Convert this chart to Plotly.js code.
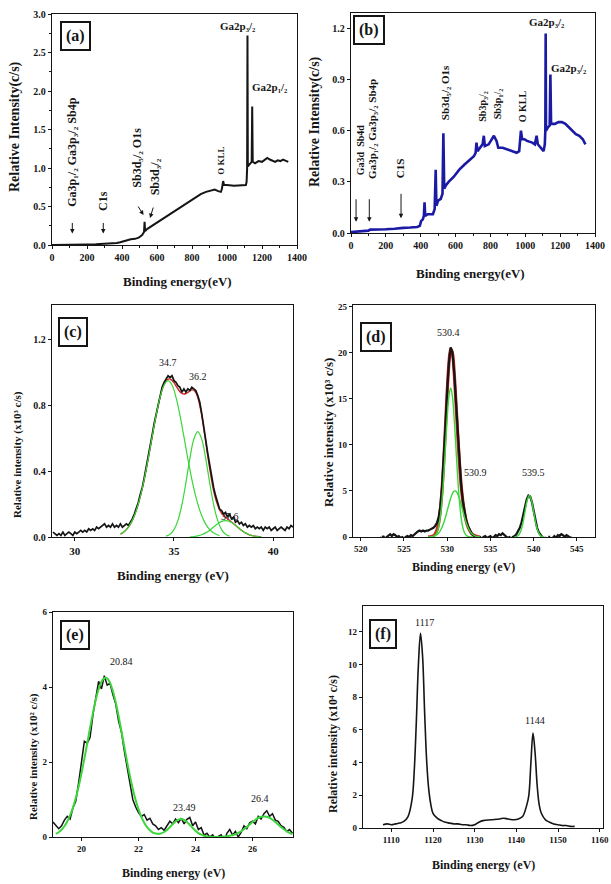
<!DOCTYPE html>
<html>
<head>
<meta charset="utf-8">
<script src="https://cdn.plot.ly/plotly-3.0.1.min.js"></script>
<style>
  html, body { margin: 0; padding: 0; background: #fff; }
  #chart { width: 611px; height: 884px; }
</style>
</head>
<body>
<div id="chart"></div>
<script>
// ---------- (a) XPS survey, sample A ----------
const surveyA_eV = [0,50,100,150,200,250,300,340,370,390,410,430,450,475,495,515,526,529,532,545,565,590,620,660,700,740,780,820,850,880,905,930,950,965,970,974,978,983,1000,1040,1080,1108,1112,1115,1117,1119,1126,1135,1141,1144,1147,1160,1180,1200,1215,1230,1245,1260,1275,1290,1305,1320,1335,1350];
const surveyA_cps = [0.0,0.0,0.005,0.004,0.008,0.01,0.014,0.02,0.025,0.035,0.05,0.07,0.075,0.08,0.095,0.13,0.17,0.30,0.18,0.21,0.24,0.28,0.32,0.38,0.44,0.50,0.56,0.62,0.66,0.69,0.71,0.72,0.70,0.69,0.72,0.78,0.83,0.78,0.78,0.77,0.78,0.78,0.82,1.0,2.72,1.02,1.04,1.06,1.08,1.80,1.08,1.06,1.09,1.08,1.11,1.13,1.11,1.10,1.08,1.10,1.09,1.11,1.09,1.08];

// ---------- (b) XPS survey, sample B ----------
const surveyB_eV = [0,30,60,100,110,150,200,250,280,300,340,380,395,402,412,418,422,426,440,470,480,486,490,500,515,525,530,535,545,560,590,620,650,680,705,715,720,726,740,755,762,768,790,810,820,835,845,870,895,920,950,965,975,982,995,1010,1040,1055,1065,1072,1090,1105,1112,1115,1117,1119,1130,1140,1144,1148,1170,1190,1210,1230,1250,1270,1290,1310,1330,1345];
const surveyB_cps = [0.005,0.008,0.01,0.014,0.02,0.02,0.022,0.025,0.03,0.03,0.032,0.035,0.042,0.07,0.08,0.10,0.18,0.10,0.11,0.11,0.14,0.37,0.16,0.19,0.20,0.23,0.585,0.26,0.28,0.30,0.33,0.37,0.40,0.43,0.45,0.47,0.53,0.48,0.50,0.52,0.57,0.51,0.52,0.55,0.57,0.54,0.50,0.50,0.49,0.48,0.47,0.48,0.60,0.55,0.55,0.54,0.53,0.52,0.57,0.52,0.50,0.48,0.52,0.60,1.17,0.60,0.62,0.63,0.93,0.64,0.64,0.65,0.65,0.64,0.62,0.60,0.58,0.57,0.55,0.52];

// ---------- (c) Sb 4d region ----------
const sb4d_eV = [28.9,29.0,29.1,29.2,29.3,29.4,29.5,29.6,29.7,29.8,29.9,30.0,30.1,30.2,30.3,30.4,30.5,30.6,30.7,30.8,30.9,31.0,31.1,31.2,31.3,31.4,31.5,31.6,31.7,31.8,31.9,32.0,32.1,32.2,32.3,32.4,32.5,32.6,32.7,32.8,32.9,33.0,33.1,33.2,33.3,33.4,33.5,33.6,33.7,33.8,33.9,34.0,34.1,34.2,34.3,34.4,34.5,34.6,34.7,34.8,34.9,35.0,35.1,35.2,35.3,35.4,35.5,35.6,35.7,35.8,35.9,36.0,36.1,36.2,36.3,36.4,36.5,36.6,36.7,36.8,36.9,37.0,37.1,37.2,37.3,37.4,37.5,37.6,37.7,37.8,37.9,38.0,38.1,38.2,38.3,38.4,38.5,38.6,38.7,38.8,38.9,39.0,39.1,39.2,39.3,39.4,39.5,39.6,39.7,39.8,39.9,40.0,40.1,40.2,40.3,40.4,40.5,40.6,40.7,40.8,40.9,41.0];
const sb4d_cps = [0.03,0.02,0.01,0.02,0.01,0.03,0.01,0.02,0.03,0.02,0.01,0.03,0.02,0.03,0.04,0.03,0.04,0.03,0.05,0.04,0.05,0.04,0.06,0.05,0.06,0.07,0.08,0.06,0.07,0.06,0.08,0.06,0.07,0.06,0.08,0.06,0.07,0.08,0.07,0.09,0.11,0.14,0.17,0.21,0.26,0.30,0.36,0.42,0.48,0.55,0.62,0.69,0.75,0.81,0.86,0.91,0.94,0.96,0.98,0.97,0.98,0.95,0.94,0.92,0.91,0.88,0.90,0.88,0.90,0.89,0.91,0.90,0.89,0.86,0.82,0.75,0.68,0.59,0.51,0.43,0.36,0.30,0.25,0.21,0.17,0.16,0.14,0.15,0.12,0.14,0.11,0.12,0.09,0.10,0.08,0.09,0.07,0.08,0.06,0.07,0.06,0.07,0.05,0.06,0.05,0.06,0.04,0.06,0.05,0.06,0.04,0.05,0.06,0.04,0.05,0.06,0.05,0.04,0.06,0.05,0.07,0.06];
const sb4d_fit_eV = [32.3,32.4,32.5,32.6,32.7,32.8,32.9,33.0,33.1,33.2,33.3,33.4,33.5,33.6,33.7,33.8,33.9,34.0,34.1,34.2,34.3,34.4,34.5,34.6,34.7,34.8,34.9,35.0,35.1,35.2,35.3,35.4,35.5,35.6,35.7,35.8,35.9,36.0,36.1,36.2,36.3,36.4,36.5,36.6,36.7,36.8,36.9,37.0,37.1,37.2,37.3,37.4,37.5,37.6,37.7,37.8,37.9,38.0,38.1,38.2,38.3,38.4,38.5,38.6,38.7,38.8,38.9,39.0,39.1,39.2,39.3,39.4];
const sb4d_fit = [0.018,0.024,0.033,0.045,0.06,0.078,0.101,0.129,0.162,0.20,0.245,0.295,0.35,0.411,0.475,0.543,0.61,0.677,0.74,0.80,0.85,0.895,0.927,0.949,0.96,0.96,0.952,0.938,0.918,0.901,0.883,0.873,0.869,0.872,0.879,0.888,0.894,0.892,0.877,0.847,0.80,0.737,0.662,0.579,0.495,0.415,0.343,0.281,0.232,0.194,0.165,0.146,0.131,0.12,0.111,0.101,0.091,0.082,0.071,0.061,0.051,0.041,0.032,0.025,0.019,0.0135,0.0096,0.0066,0.0044,0.003,0.002,0.001];
const sb4d_p1_eV = [32.3,32.5,32.7,32.9,33.1,33.3,33.5,33.7,33.9,34.1,34.3,34.5,34.7,34.9,35.1,35.3,35.5,35.7,35.9,36.1,36.3,36.5,36.7,36.9,37.1,37.3];
const sb4d_p1 = [0.018,0.033,0.06,0.101,0.162,0.245,0.35,0.475,0.61,0.74,0.85,0.924,0.95,0.924,0.85,0.74,0.61,0.475,0.35,0.245,0.162,0.101,0.06,0.033,0.018,0.009];
const sb4d_p2_eV = [34.6,34.8,35.0,35.2,35.4,35.6,35.8,36.0,36.2,36.4,36.6,36.8,37.0,37.2,37.4,37.6,37.8];
const sb4d_p2 = [0.0056,0.017,0.045,0.101,0.196,0.329,0.476,0.594,0.64,0.594,0.476,0.329,0.196,0.101,0.045,0.017,0.0056];
const sb4d_p3_eV = [35.8,36.0,36.2,36.4,36.6,36.8,37.0,37.2,37.4,37.6,37.8,38.0,38.2,38.4,38.6,38.8,39.0,39.2,39.4];
const sb4d_p3 = [0.001,0.003,0.0066,0.0135,0.025,0.041,0.061,0.080,0.095,0.1,0.095,0.080,0.061,0.041,0.025,0.0135,0.0066,0.003,0.001];
const sb4d_peaks = [34.7, 36.2, 37.6];

// ---------- (d) O 1s / Sb 3d5/2 region ----------
const o1s_eV = [522.2,522.4,522.6,522.8,523.0,523.2,523.4,523.6,523.8,524.0,524.2,524.4,524.6,524.8,525.0,525.2,525.4,525.6,525.8,526.0,526.2,526.4,526.6,526.8,527.0,527.2,527.4,527.6,527.8,528.0,528.2,528.4,528.6,528.8,529.0,529.2,529.4,529.6,529.8,530.0,530.2,530.4,530.6,530.8,531.0,531.2,531.4,531.6,531.8,532.0,532.2,532.4,532.6,532.8,533.0,533.2,533.4,533.6,533.8,534.0,534.2,534.4,534.6,534.8,535.0,535.2,535.4,535.6,535.8,536.0,536.2,536.4,536.6,536.8,537.0,537.2,537.4,537.6,537.8,538.0,538.2,538.4,538.6,538.8,539.0,539.2,539.4,539.6,539.8,540.0,540.2,540.4,540.6,540.8,541.0,541.2,541.4,541.6,541.8,542.0,542.2,542.4,542.6,542.8,543.0,543.2,543.4,543.6,543.8,544.0,544.2,544.4];
const o1s_cps = [0.0,-0.3,0.1,-0.2,0.0,0.2,0.3,0.1,0.3,0.2,0.0,0.1,-0.1,0.0,-0.2,0.0,0.1,0.0,0.2,0.1,0.3,0.4,0.6,0.7,0.6,0.7,0.6,0.7,0.7,0.8,0.9,1.0,1.2,1.5,2.1,3.3,5.4,8.4,12.1,16.0,19.0,20.6,20.1,18.0,14.9,11.5,8.3,5.8,4.0,2.7,1.8,1.2,0.7,0.4,0.2,0.1,0.0,-0.1,0.0,-0.2,0.0,0.1,-0.1,0.0,0.1,-0.1,0.0,0.2,0.1,0.3,0.2,0.4,0.2,0.1,-0.1,0.0,-0.2,0.0,0.1,0.3,0.6,1.0,1.6,2.4,3.3,4.1,4.5,4.4,3.8,2.8,1.8,1.0,0.5,0.2,0.0,-0.2,-0.1,-0.3,0.0,-0.2,-0.1,0.1,-0.1,0.2,0.1,0.3,0.2,0.0,0.2,0.1,-0.1,0.0];
const o1s_fit_eV = [527.8,528.0,528.2,528.4,528.6,528.8,529.0,529.2,529.4,529.6,529.8,530.0,530.2,530.4,530.6,530.8,531.0,531.2,531.4,531.6,531.8,532.0,532.2,532.4,532.6,532.8,533.0,533.2,533.4,533.6,533.8];
const o1s_fit = [0.01,0.02,0.05,0.13,0.31,0.70,1.48,2.87,5.09,8.21,11.99,15.83,18.86,20.40,20.0,17.94,14.8,11.36,8.24,5.75,3.93,2.62,1.73,1.11,0.70,0.415,0.24,0.13,0.066,0.03,0.015];
const o1s_p1_eV = [527.8,528.0,528.2,528.4,528.6,528.8,529.0,529.2,529.4,529.6,529.8,530.0,530.2,530.4,530.6,530.8,531.0,531.2,531.4,531.6,531.8,532.0,532.2,532.4,532.6,532.8,533.0];
const o1s_p1 = [0.001,0.005,0.02,0.06,0.18,0.46,1.07,2.19,4.04,6.66,9.83,12.97,15.3,16.2,15.3,12.97,9.83,6.66,4.04,2.19,1.07,0.46,0.18,0.06,0.02,0.005,0.001];
const o1s_p2_eV = [528.0,528.2,528.4,528.6,528.8,529.0,529.2,529.4,529.6,529.8,530.0,530.2,530.4,530.6,530.8,531.0,531.2,531.4,531.6,531.8,532.0,532.2,532.4,532.6,532.8,533.0,533.2,533.4,533.6,533.8];
const o1s_p2 = [0.015,0.03,0.066,0.13,0.24,0.41,0.68,1.05,1.55,2.16,2.86,3.56,4.2,4.7,4.97,4.97,4.7,4.2,3.56,2.86,2.16,1.55,1.05,0.68,0.41,0.24,0.13,0.066,0.03,0.015];
const o1s_p3_eV = [537.75,538.0,538.25,538.5,538.75,539.0,539.25,539.5,539.75,540.0,540.25,540.5,540.75,541.0,541.25];
const o1s_p3 = [0.01,0.05,0.2,0.61,1.46,2.73,3.97,4.5,3.97,2.73,1.46,0.61,0.2,0.05,0.01];
const o1s_peaks = [530.4, 530.9, 539.5];

// ---------- (e) valence / Ga 3d region ----------
const ga3d_eV = [19.0,19.1,19.2,19.3,19.4,19.5,19.6,19.7,19.8,19.9,20.0,20.1,20.2,20.3,20.4,20.5,20.6,20.7,20.8,20.9,21.0,21.1,21.2,21.3,21.4,21.5,21.6,21.7,21.8,21.9,22.0,22.1,22.2,22.3,22.4,22.5,22.6,22.7,22.8,22.9,23.0,23.1,23.2,23.3,23.4,23.5,23.6,23.7,23.8,23.9,24.0,24.1,24.2,24.3,24.4,24.5,24.6,24.7,24.8,24.9,25.0,25.1,25.2,25.3,25.4,25.5,25.6,25.7,25.8,25.9,26.0,26.1,26.2,26.3,26.4,26.5,26.6,26.7,26.8,26.9,27.0,27.1,27.2,27.3,27.4];
const ga3d_cps = [0.40,0.32,0.22,0.30,0.45,0.55,0.48,0.78,0.95,1.45,2.0,2.55,2.5,2.65,3.25,3.7,4.15,3.95,4.3,4.05,4.1,3.8,3.55,3.1,2.8,2.3,1.85,1.4,1.0,0.8,0.65,0.55,0.6,0.45,0.5,0.35,0.3,0.2,0.25,0.18,0.3,0.42,0.35,0.48,0.38,0.5,0.35,0.47,0.52,0.3,0.4,0.2,0.25,0.05,0.1,0.0,0.06,-0.05,0.02,0.06,-0.15,0.1,0.2,0.05,0.15,0.0,0.12,0.3,0.22,0.38,0.42,0.35,0.55,0.48,0.62,0.7,0.55,0.62,0.45,0.42,0.3,0.26,0.15,0.2,0.1];
const ga3d_fit_eV = [19.1,19.2,19.3,19.4,19.5,19.6,19.7,19.8,19.9,20.0,20.1,20.2,20.3,20.4,20.5,20.6,20.7,20.8,20.9,21.0,21.1,21.2,21.3,21.4,21.5,21.6,21.7,21.8,21.9,22.0,22.1,22.2,22.3,22.4,22.5,22.6,22.7,22.8,22.9,23.0,23.1,23.2,23.3,23.4,23.5,23.6,23.7,23.8,23.9,24.0,24.1,24.2,24.3,24.4,24.5,24.6,24.7,24.8,24.9,25.0,25.1,25.2,25.3,25.4,25.5,25.6,25.7,25.8,25.9,26.0,26.1,26.2,26.3,26.4,26.5,26.6,26.7,26.8,26.9,27.0,27.1,27.2,27.3,27.4];
const ga3d_fit = [0.083,0.128,0.194,0.286,0.411,0.575,0.784,1.041,1.347,1.697,2.085,2.494,2.909,3.304,3.657,3.943,4.143,4.241,4.230,4.111,3.892,3.591,3.227,2.826,2.412,2.005,1.624,1.282,0.986,0.738,0.539,0.383,0.266,0.179,0.118,0.095,0.085,0.098,0.133,0.190,0.263,0.344,0.414,0.464,0.48,0.457,0.401,0.324,0.242,0.166,0.105,0.061,0.033,0.016,0.007,0.003,0.001,0.003,0.006,0.011,0.019,0.031,0.049,0.074,0.109,0.153,0.206,0.268,0.334,0.399,0.459,0.508,0.539,0.55,0.539,0.508,0.459,0.399,0.334,0.268,0.206,0.153,0.109,0.074];
const ga3d_peaks = [20.84, 23.49, 26.4];

// ---------- (f) Ga 2p region ----------
const ga2p_eV = [1108,1109,1110,1111,1112,1113,1114,1115,1115.5,1116,1116.5,1117,1117.5,1118,1118.5,1119,1119.5,1120,1121,1122,1123,1124,1125,1126,1127,1128,1129,1130,1131,1132,1134,1136,1137,1138,1139.5,1140.5,1141.5,1142.5,1143,1143.5,1144,1144.5,1145,1145.5,1146,1147,1148,1149,1150,1151,1152,1153,1154];
const ga2p_cps = [0.2,0.25,0.2,0.25,0.3,0.4,0.7,1.8,3.5,6.5,10.0,11.9,10.5,7.0,4.0,2.3,1.4,0.9,0.6,0.45,0.35,0.3,0.25,0.25,0.2,0.2,0.15,0.2,0.35,0.45,0.5,0.55,0.6,0.55,0.5,0.55,0.7,1.4,2.0,4.0,5.8,4.6,2.6,1.4,0.9,0.5,0.35,0.25,0.2,0.15,0.15,0.1,0.1];
const ga2p_peaks = [1117, 1144];

// ---------- helpers ----------
const W = 611, H = 884;
const FONT = 'Liberation Serif';
const INK = '#151515';
const GREEN = '#3ad63a';
const RED = '#cc2a22';
const fx = p => p / W;          // page pixel -> paper x
const fy = p => 1 - p / H;      // page pixel -> paper y

function axis(domain, range, anchor, size, extra) {
  return Object.assign({
    domain: domain, range: range, anchor: anchor,
    showline: true, linecolor: INK, linewidth: 1.3, mirror: true,
    ticks: 'outside', ticklen: 3, tickwidth: 1, tickcolor: INK,
    showgrid: false, zeroline: false, fixedrange: true,
    tickfont: { family: FONT, size: size, color: INK, weight: 'bold' }
  }, extra || {});
}

function line(x, y, xa, ya, color, width, shape) {
  return { type: 'scatter', mode: 'lines', x: x, y: y, xaxis: xa, yaxis: ya,
           line: { color: color, width: width, shape: shape || 'linear' },
           hoverinfo: 'skip' };
}

const traces = [
  line(surveyA_eV, surveyA_cps, 'x', 'y', INK, 2),
  line(surveyB_eV, surveyB_cps, 'x2', 'y2', '#1a1aa4', 2.6),

  line(sb4d_fit_eV, sb4d_fit, 'x3', 'y3', RED, 1.4, 'spline'),
  line(sb4d_eV, sb4d_cps, 'x3', 'y3', INK, 1.7),
  line(sb4d_p1_eV, sb4d_p1, 'x3', 'y3', GREEN, 1.2, 'spline'),
  line(sb4d_p2_eV, sb4d_p2, 'x3', 'y3', GREEN, 1.2, 'spline'),
  line(sb4d_p3_eV, sb4d_p3, 'x3', 'y3', GREEN, 1.2, 'spline'),

  line(o1s_fit_eV, o1s_fit, 'x4', 'y4', RED, 3.2, 'spline'),
  line(o1s_eV, o1s_cps, 'x4', 'y4', INK, 2.2),
  line(o1s_p1_eV, o1s_p1, 'x4', 'y4', GREEN, 1.4, 'spline'),
  line(o1s_p2_eV, o1s_p2, 'x4', 'y4', GREEN, 1.4, 'spline'),
  line(o1s_p3_eV, o1s_p3, 'x4', 'y4', GREEN, 1.4, 'spline'),

  line(ga3d_eV, ga3d_cps, 'x5', 'y5', INK, 1.5),
  line(ga3d_fit_eV, ga3d_fit, 'x5', 'y5', GREEN, 2, 'spline'),

  line(ga2p_eV, ga2p_cps, 'x6', 'y6', INK, 1.6, 'spline')
];

const minorX = { dtick: 100, ticks: 'outside', ticklen: 2, tickcolor: INK };

const layout = {
  width: W, height: H,
  margin: { l: 0, r: 0, t: 0, b: 0 },
  showlegend: false,
  paper_bgcolor: '#fff', plot_bgcolor: '#fff',
  font: { family: FONT, color: INK, size: 10 },

  xaxis:  axis([fx(52), fx(297)], [0, 1400], 'y', 10, { tick0: 0, dtick: 200, minor: minorX }),
  yaxis:  axis([fy(245), fy(14)], [0, 3], 'x', 10, { tick0: 0, dtick: 0.5, tickformat: '.1f',
           minor: { dtick: 0.25, ticks: 'outside', ticklen: 2, tickcolor: INK } }),
  xaxis2: axis([fx(351), fx(595)], [0, 1400], 'y2', 10, { tick0: 0, dtick: 200, minor: minorX }),
  yaxis2: axis([fy(233), fy(13)], [0, 1.29], 'x2', 10, { tick0: 0, dtick: 0.3, tickformat: '.1f' }),
  xaxis3: axis([fx(52), fx(293)], [28.85, 41], 'y3', 11, { tick0: 30, dtick: 5 }),
  yaxis3: axis([fy(537), fy(305)], [0, 1.41], 'x3', 10, { tick0: 0, dtick: 0.4, tickformat: '.1f' }),
  xaxis4: axis([fx(353), fx(595)], [519.1, 547.1], 'y4', 9, { tick0: 520, dtick: 5 }),
  yaxis4: axis([fy(537), fy(305)], [0, 25.2], 'x4', 9, { tick0: 0, dtick: 5 }),
  xaxis5: axis([fx(53), fx(293)], [19.0, 27.42], 'y5', 9, { tick0: 20, dtick: 2 }),
  yaxis5: axis([fy(837), fy(612)], [0, 6], 'x5', 9, { tick0: 0, dtick: 2 }),
  xaxis6: axis([fx(363), fx(603)], [1103.2, 1160.8], 'y6', 9, { tick0: 1110, dtick: 10 }),
  yaxis6: axis([fy(828), fy(606)], [0, 13.57], 'x6', 9, { tick0: 0, dtick: 2 }),

  annotations: []
};

const ann = layout.annotations;

// panel tags in framed boxes
[['(a)', 75, 36], ['(b)', 369, 30], ['(c)', 73, 332],
 ['(d)', 376, 337], ['(e)', 75, 635], ['(f)', 383, 634]].forEach(t => {
  ann.push({ xref: 'paper', yref: 'paper', x: fx(t[1]), y: fy(t[2]),
             xanchor: 'center', yanchor: 'middle', showarrow: false,
             text: t[0], font: { family: FONT, size: 16, color: INK, weight: 'bold' },
             bordercolor: INK, borderwidth: 2, borderpad: 4, bgcolor: '#fff' });
});

// axis titles
function title(text, px, py, size, rot) {
  ann.push({ xref: 'paper', yref: 'paper', x: fx(px), y: fy(py),
             xanchor: 'center', yanchor: 'middle', showarrow: false,
             textangle: rot || 0, text: text,
             font: { family: FONT, size: size, color: INK, weight: 'bold' } });
}
title('Relative Intensity(c/s)', 15, 127, 14, -90);
title('Binding energy(eV)', 177, 281, 13);
title('Relative Intensity(c/s)', 315, 122, 14, -90);
title('Binding energy(eV)', 470, 273, 13);
title('Relative intensity (x10³ c/s)', 18, 455, 11, -90);
title('Binding energy (eV)', 173, 575, 13);
title('Relative intensity (x10³ c/s)', 328, 433, 13, -90);
title('Binding energy (eV)', 463, 567, 12);
title('Relative intensity (x10² c/s)', 33, 757, 11, -90);
title('Binding energy (eV)', 173, 873, 12);
title('Relative intensity (x10⁴ c/s)', 333, 744, 12, -90);
title('Binding energy (eV)', 483, 865, 12);

// survey peak assignments
function tag(xa, ya, text, x, y, rot, size) {
  ann.push({ xref: xa, yref: ya, x: x, y: y, xanchor: 'center', yanchor: 'middle',
             showarrow: false, textangle: rot, text: text,
             font: { family: FONT, size: size || 11, color: INK, weight: 'bold' } });
}
function pointer(xa, ya, x, y, ax, ay) {
  ann.push({ xref: xa, yref: ya, x: x, y: y, ax: ax, ay: ay, text: ' ',
             font: { family: FONT, size: 2, color: INK },
             showarrow: true, arrowhead: 2, arrowsize: 0.9, arrowwidth: 1,
             arrowcolor: INK, standoff: 0 });
}

tag('x', 'y', 'Ga3p₁/₂ Ga3p₃/₂ Sb4p', 114, 1.21, -90, 12);
tag('x', 'y', 'C1s', 291, 0.57, -90, 12);
tag('x', 'y', 'Sb3d₅/₂ O1s', 484, 1.13, -90, 12);
tag('x', 'y', 'Sb3d₃/₂', 589, 0.88, -90, 12);
tag('x', 'y', 'O KLL', 964, 1.09, -90, 9);
tag('x', 'y', 'Ga2p₃/₂', 1063, 2.84, 0, 11);
tag('x', 'y', 'Ga2p₁/₂', 1246, 2.05, 0, 11);
pointer('x', 'y', 116, 0.15, 0, -13);
pointer('x', 'y', 293, 0.15, 0, -13);
pointer('x', 'y', 523, 0.39, -7, -11);
pointer('x', 'y', 560, 0.35, 4, -13);

tag('x2', 'y2', 'Ga3d  Sb4d', 52, 0.486, -90, 10);
tag('x2', 'y2', 'Ga3p₁/₂ Ga3p₃/₂ Sb4p', 120, 0.61, -90, 11);
tag('x2', 'y2', 'C1S', 281, 0.38, -90, 11);
tag('x2', 'y2', 'Sb3d₅/₂ O1s', 539, 0.825, -90, 11);
tag('x2', 'y2', 'Sb3p₃/₂', 757, 0.74, -90, 10);
tag('x2', 'y2', 'Sb3p₁/₂', 838, 0.755, -90, 10);
tag('x2', 'y2', 'O KLL', 981, 0.743, -90, 10);
tag('x2', 'y2', 'Ga2p₃/₂', 1125, 1.235, 0, 11);
tag('x2', 'y2', 'Ga2p₃/₂', 1251, 0.97, 0, 11);
pointer('x2', 'y2', 29, 0.066, 0, -25);
pointer('x2', 'y2', 105, 0.066, 0, -25);
pointer('x2', 'y2', 287, 0.086, 0, -27);

// fitted peak positions
function peakLabel(xa, ya, value, y, shift, size) {
  ann.push({ xref: xa, yref: ya, x: value, y: y, xshift: shift, showarrow: false,
             xanchor: 'center', yanchor: 'middle', text: String(value),
             font: { family: FONT, size: size || 10, color: INK } });
}
peakLabel('x3', 'y3', sb4d_peaks[0], 1.06, 0);
peakLabel('x3', 'y3', sb4d_peaks[1], 0.974, 0);
peakLabel('x3', 'y3', sb4d_peaks[2], 0.125, 4);
peakLabel('x4', 'y4', o1s_peaks[0], 22.2, -2);
peakLabel('x4', 'y4', o1s_peaks[1], 7.0, 21);
peakLabel('x4', 'y4', o1s_peaks[2], 7.0, 4);
peakLabel('x5', 'y5', ga3d_peaks[0], 4.67, 16);
peakLabel('x5', 'y5', ga3d_peaks[1], 0.79, 4);
peakLabel('x5', 'y5', ga3d_peaks[2], 1.04, -4);
peakLabel('x6', 'y6', ga2p_peaks[0], 12.58, 4);
peakLabel('x6', 'y6', ga2p_peaks[1], 6.6, 2);

Plotly.newPlot('chart', traces, layout, { staticPlot: true, displayModeBar: false });
</script>
</body>
</html>
